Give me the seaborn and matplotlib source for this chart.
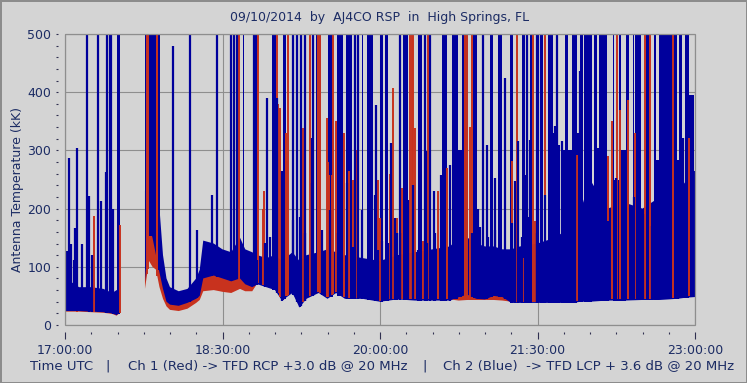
import numpy as np
import matplotlib
matplotlib.use("Agg")
import matplotlib.pyplot as plt
from matplotlib.patches import Rectangle
from matplotlib.ticker import MultipleLocator
import seaborn as sns

nan = np.nan

# envelope nodes, minutes after 17:00 UTC (nan = no data)
env_t = [0, 3, 8, 15, 22, 27, 29.5, 31.5, 31.6, 45.6,
         45.7, 48, 50, 52, 54, 56, 58, 60, 65, 70,
         75, 77, 79, 85, 90, 95, 100, 103, 107, 110,
         115, 120, 124, 130, 134, 138, 145, 150, 155, 160,
         170, 180, 190, 200, 210, 220, 225, 230, 235, 240,
         245, 250, 255, 260, 270, 280, 290, 295, 300, 310,
         320, 330, 340, 350, 355, 360]
blue_lo = [24, 24, 24, 23, 22, 20, 17, 22, nan, nan,
           75, 170, 150, 120, 90, 62, 40, 35, 33, 38,
           45, 50, 80, 85, 80, 75, 80, 70, 65, 70,
           65, 60, 42, 55, 30, 45, 55, 45, 55, 45,
           45, 40, 44, 42, 42, 42, 48, 52, 45, 44,
           50, 48, 38, 38, 38, 38, 38, 40, 40, 42,
           42, 43, 43, 45, 47, 48]
blue_top = [95, 75, 65, 65, 62, 55, 60, 60, nan, nan,
            230, 300, 300, 330, 200, 120, 80, 65, 58, 62,
            80, 95, 145, 140, 130, 125, 150, 130, 125, 120,
            115, 120, 110, 125, 110, 120, 125, 130, 125, 120,
            115, 110, 120, 125, 130, 135, 150, 150, 140, 135,
            135, 130, 130, 135, 140, 150, 170, 200, 250, 200,
            210, 200, 220, 260, 240, 260]
red_lo = [23, 23, 23, 22, 21, 19, 16, 21, nan, nan,
          62, 110, 100, 95, 65, 45, 32, 26, 24, 28,
          38, 43, 58, 60, 57, 55, 62, 58, 58, 72,
          67, 62, 44, 57, 32, 47, 57, 47, 57, 47,
          47, 42, 46, 44, 44, 44, 42, 43, 43, 43,
          43, 42, 40, 40, 40, 40, 40, 42, 42, 44,
          44, 45, 45, 47, 49, 50]
red_top = [40, 40, 40, 40, 38, 35, 35, 40, nan, nan,
           230, 500, 400, 150, 110, 75, 50, 40, 38, 42,
           50, 55, 92, 90, 85, 85, 110, 90, 66, 80,
           75, 70, 52, 65, 40, 55, 65, 55, 65, 55,
           55, 50, 54, 52, 52, 52, 52, 52, 48, 47,
           52, 50, 48, 48, 48, 48, 48, 50, 50, 52,
           52, 53, 53, 55, 57, 58]

# single interference spikes (minute, kK)
blue_spike_t = [1.1, 2.3, 3.5, 5.1, 5.7, 6.9, 9.5, 12.6, 13.7, 15.5, 18.9, 20.6, 23.4, 24.0, 25.7, 26.5, 27.4,
                61.7, 71.4, 75.4, 84.0, 86.9, 94.9, 96.6, 98.3, 108.0, 115.4, 121.1, 124.0, 130.3, 132.6, 134.9, 137.1, 141.1, 141.7,
                165.7, 167.4, 177.0, 177.5, 181.0, 186.5, 188.5, 191.4, 198.9, 205.7, 206.3, 208.6, 210.9, 214.9, 220.0, 224.0,
                236.0, 238.9, 241.1, 245.7, 251.4, 256.9, 258.9, 263.4, 264.0, 265.7, 269.7, 270.3, 274.3, 280.0, 281.0, 284.0, 291.4, 294.0, 304.6,
                310.5, 315.0, 319.0, 323.5, 325.2, 330.5, 335.5, 338.5, 350.3, 353.0, 353.8]
blue_spike_h = [127, 287, 140, 112, 166, 304, 140, 500, 222, 120, 500, 213, 263, 500, 500, 500, 200,
                480, 500, 163, 223, 500, 500, 500, 500, 500, 390, 390, 265, 500, 500, 500, 500, 321, 500,
                500, 500, 223, 378, 144, 313, 184, 500, 240, 500, 299, 500, 230, 258, 275, 137,
                200, 500, 309, 253, 425, 247, 316, 258, 500, 318, 500, 500, 223, 342, 500, 316, 299, 437, 304,
                178, 253, 300, 189, 220, 190, 170, 283, 283, 321, 235]
# shorter tips poking above the dense band
blue_tip_t = [109.5, 114.3, 117.1, 120.0, 124.8, 130.5, 134.3, 137.1, 141.0, 146.7,
              151.4, 156.2, 161.0, 164.8, 169.5, 174.3, 179.0, 184.8, 189.5,
              191.4, 196.2, 201.9, 206.7, 211.4, 215.2, 232.4, 237.1, 241.9, 245.7,
              251.4, 255.2, 261.0, 264.8, 269.5, 273.3]
blue_tip_h = [112, 141, 151, 129, 232, 180, 186, 158, 244, 163,
              198, 158, 244, 134, 198, 168, 129, 141, 158,
              158, 215, 129, 141, 158, 186, 158, 168, 151, 163,
              129, 175, 151, 186, 158, 141]
red_spike_t = [6.9, 16.6, 31.3, 46.9, 47.3, 52.3, 52.7,
               99.4, 110.3, 113.1, 121.1, 122.9, 126.9, 127.4, 136.0, 140.0, 144.6, 145.7, 149.7, 153.0,
               113.7, 121.7, 126.3, 136.6, 150.3, 154.9, 159.7, 166.6, 179.1, 185.7,
               151.0, 152.5, 162.3, 164.6, 180.0, 187.4, 189.7, 192.6, 197.0, 198.0, 199.0, 200.0, 204.6, 207.4, 213.1, 218.3, 228.6, 231.4,
               229.7, 232.6, 255.4, 258.3, 261.7, 267.4, 268.6, 274.3, 292.6,
               310.3, 312.6, 315.4, 317.0, 321.7, 325.7, 331.4, 334.3, 347.4, 356.6]
red_spike_h = [278, 187, 172, 500, 500, 500, 500,
               500, 500, 200, 500, 373, 282, 500, 338, 500, 500, 500, 356, 500,
               230, 380, 330, 300, 280, 350, 330, 300, 250, 260,
               258, 258, 265, 250, 184, 407, 184, 235, 500, 500, 500, 338, 144, 500, 230, 270, 500, 340,
               500, 500, 282, 500, 115, 500, 179, 500, 292,
               290, 350, 500, 370, 387, 330, 500, 500, 500, 321]

# dense bursts of blue interference up to full scale (start min, end min)
burst_start = [29.5, 45.7, 47.5, 53.0, 101.5, 108.6, 118.3, 124.3, 143.5, 150.5,
               155.5, 160.6, 169.7, 172.6, 180.0, 182.9, 193.0, 201.7, 215.4, 221.0,
               226.9, 233.0, 242.9, 247.4, 254.3, 261.0, 265.7, 271.4, 276.0, 285.7,
               289.7, 294.3, 296.5, 302.2, 305.0, 313.0, 316.6, 320.6, 324.4, 325.7,
               332.0, 336.6, 339.4, 350.9, 354.3]
burst_end = [31.5, 46.7, 52.0, 54.3, 102.5, 110.3, 120.5, 126.0, 146.0, 153.0,
             159.0, 164.0, 170.5, 176.0, 181.7, 184.6, 196.0, 204.0, 218.3, 224.6,
             230.3, 235.4, 244.6, 249.7, 256.0, 262.9, 266.9, 273.1, 278.9, 287.4,
             292.6, 295.8, 301.3, 304.2, 309.7, 313.9, 317.7, 322.3, 325.1, 329.0,
             334.3, 337.7, 349.7, 352.4, 356.6]
# bursts that stop below full scale
part_start = [224.6, 279.0, 281.5, 284.0, 287.4, 292.6, 313.9, 317.7, 337.7, 356.6, 359.5]
part_end = [226.9, 280.5, 283.0, 285.7, 289.7, 294.3, 316.6, 320.6, 339.4, 359.5, 360.0]
part_h = [300, 330, 310, 300, 300, 330, 250, 300, 283, 395, 265]

xtick_min = [0, 90, 180, 270, 360]
xtick_labels = ["17:00:00", "18:30:00", "20:00:00", "21:30:00", "23:00:00"]

BLUE = "#00009c"
RED = "#c8321e"
TXT = "#1c2c64"
BG = "#d4d4d4"
GRID = "#8e8e8e"

sns.set_theme(style="ticks", rc={"axes.facecolor": BG, "figure.facecolor": BG})
plt.rcParams["font.family"] = ["DejaVu Sans"]

fig = plt.figure(figsize=(7.47, 3.83), dpi=100)
fig.patch.set_facecolor(BG)
fig.patch.set_edgecolor("#8c8c8c")
fig.patch.set_linewidth(2)
ax = fig.add_axes([65 / 747, 1 - 325 / 383, 630 / 747, 291 / 383])
ax.set_facecolor(BG)

t = np.array(env_t, dtype=float)

# ch1 (red) under ch2 (blue)
ax.fill_between(t, red_lo, red_top, color=RED, lw=0)
rt = np.array(red_spike_t)
ax.vlines(rt, np.interp(rt, t, red_lo), red_spike_h, color=RED, lw=1.4)

ax.fill_between(t, blue_lo, blue_top, color=BLUE, lw=0)
for st, sh in [(blue_spike_t, blue_spike_h), (blue_tip_t, blue_tip_h)]:
    st = np.array(st)
    ax.vlines(st, np.interp(st, t, blue_lo), sh, color=BLUE, lw=1.6)

for s, e, h in [(burst_start, burst_end, [500] * len(burst_start)),
                (part_start, part_end, part_h)]:
    s = np.array(s)
    e = np.array(e)
    b = np.interp((s + e) / 2, t, blue_lo)
    ax.bar(s, np.array(h) - b, width=e - s, bottom=b, align="edge", color=BLUE, lw=0)

ax.set_xlim(0, 360)
ax.set_ylim(0, 500)
ax.set_xticks(xtick_min, xtick_labels)
ax.xaxis.set_minor_locator(MultipleLocator(15))
ax.yaxis.set_major_locator(MultipleLocator(100))
ax.yaxis.set_minor_locator(MultipleLocator(20))
ax.grid(True, which="major", color=GRID, lw=0.8)
ax.set_axisbelow(True)

sns.despine(ax=ax, offset=5)
ax.spines["left"].set_visible(False)
ax.spines["bottom"].set_visible(False)
ax.add_patch(Rectangle((0, 0), 1, 1, transform=ax.transAxes, fill=False,
                       ec=GRID, lw=0.9, clip_on=False, zorder=5))

ax.tick_params(axis="x", which="major", length=5, width=0.8, color="#303050",
               pad=4, labelsize=9, labelcolor=TXT)
ax.tick_params(axis="x", which="minor", length=1.5, width=0.8, color="#303050")
ax.tick_params(axis="y", which="both", length=1.5, width=0.8, color="#303050",
               pad=3.5, labelsize=9, labelcolor=TXT)

ax.set_title("09/10/2014  by  AJ4CO RSP  in  High Springs, FL",
             fontsize=9, color=TXT, pad=9)
ax.set_ylabel("Antenna Temperature (kK)", fontsize=9, color=TXT)
ax.yaxis.set_label_coords(-0.065, 0.464)

yb = 1 - 366 / 383
fs = 9.5
fig.text(30 / 747, yb, "Time UTC", fontsize=fs, color=TXT, va="center")
fig.text(108 / 747, yb, "|", fontsize=fs, color=TXT, va="center", ha="center")
fig.text(128 / 747, yb, "Ch 1 (Red) -> TFD RCP +3.0 dB @ 20 MHz", fontsize=fs, color=TXT, va="center")
fig.text(425 / 747, yb, "|", fontsize=fs, color=TXT, va="center", ha="center")
fig.text(443 / 747, yb, "Ch 2 (Blue)  -> TFD LCP + 3.6 dB @ 20 MHz", fontsize=fs, color=TXT, va="center")

fig.savefig("out.png", dpi=100, facecolor=BG, edgecolor=fig.patch.get_edgecolor())
